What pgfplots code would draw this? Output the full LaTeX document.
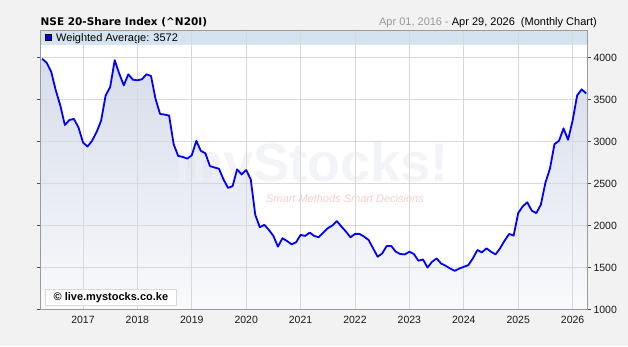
\documentclass[border=0pt]{standalone}
\usepackage{fontspec}
\setmainfont{Liberation Sans}
\newfontfamily\titlefont{DejaVu Sans}
\usepackage{pgfplots}
\usepackage{pgfplotstable}
\pgfplotsset{compat=1.18}
\definecolor{bgc}{HTML}{F2F2F2}
\definecolor{bandc}{HTML}{D5E3F1}
\definecolor{gridc}{HTML}{D9D9D9}
\definecolor{framec}{HTML}{9A9A9A}
\definecolor{filltop}{HTML}{D6DCEA}
\definecolor{fillbot}{HTML}{F9FAFC}
\definecolor{wmfill}{HTML}{EEF1F6}
\definecolor{wmpink}{HTML}{F5CFCF}
\definecolor{datec}{HTML}{999999}

\pgfplotstableread{
yr mo val
2016 4 3984
2016 5 3936
2016 6 3828
2016 7 3608
2016 8 3428
2016 9 3196
2016 10 3256
2016 11 3268
2016 12 3168
2017 1 2988
2017 2 2940
2017 3 3008
2017 4 3112
2017 5 3248
2017 6 3548
2017 7 3648
2017 8 3968
2017 9 3808
2017 10 3668
2017 11 3800
2017 12 3736
2018 1 3728
2018 2 3740
2018 3 3800
2018 4 3780
2018 5 3508
2018 6 3328
2018 7 3320
2018 8 3308
2018 9 2968
2018 10 2828
2018 11 2816
2018 12 2796
2019 1 2836
2019 2 3008
2019 3 2888
2019 4 2860
2019 5 2708
2019 6 2690
2019 7 2676
2019 8 2548
2019 9 2448
2019 10 2468
2019 11 2668
2019 12 2608
2020 1 2660
2020 2 2550
2020 3 2128
2020 4 1980
2020 5 2008
2020 6 1948
2020 7 1876
2020 8 1748
2020 9 1848
2020 10 1816
2020 11 1776
2020 12 1800
2021 1 1888
2021 2 1876
2021 3 1916
2021 4 1876
2021 5 1860
2021 6 1916
2021 7 1968
2021 8 2000
2021 9 2052
2021 10 1988
2021 11 1928
2021 12 1860
2022 1 1900
2022 2 1900
2022 3 1868
2022 4 1828
2022 5 1728
2022 6 1628
2022 7 1668
2022 8 1756
2022 9 1756
2022 10 1688
2022 11 1660
2022 12 1656
2023 1 1688
2023 2 1660
2023 3 1580
2023 4 1596
2023 5 1500
2023 6 1568
2023 7 1608
2023 8 1548
2023 9 1520
2023 10 1488
2023 11 1460
2023 12 1488
2024 1 1508
2024 2 1528
2024 3 1608
2024 4 1708
2024 5 1680
2024 6 1728
2024 7 1688
2024 8 1656
2024 9 1728
2024 10 1820
2024 11 1900
2024 12 1880
2025 1 2148
2025 2 2228
2025 3 2276
2025 4 2176
2025 5 2148
2025 6 2248
2025 7 2508
2025 8 2676
2025 9 2968
2025 10 3008
2025 11 3156
2025 12 3020
2026 1 3248
2026 2 3548
2026 3 3620
2026 4 3572
}\nsedata

\pgfplotsset{
  frame/.style={
    at={(40.5pt,36.5pt)}, anchor=south west,
    scale only axis, width=547pt, height=279pt,
    xmin=2016.219, xmax=2026.274,
    ymin=1000, ymax=4321,
  }
}

\begin{document}
\begin{tikzpicture}
\fill[bgc] (0,0) rectangle (628pt,346pt);
% plot area background (gradient) and header band
\fill[white] (40.5pt,36.5pt) rectangle (587.5pt,315.5pt);
\shade[top color=filltop, bottom color=fillbot] (40.5pt,36.5pt) rectangle (587.5pt,288.5pt);
\fill[bandc] (40.5pt,301pt) rectangle (587.5pt,315.5pt);

% first axis: white mask above the curve, so the gradient only shows below it
\begin{axis}[frame, hide axis]
\addplot[draw=none, fill=white]
  table[x expr=\thisrow{yr}+(\thisrow{mo}-1)/12, y=val] {\nsedata}
  -- (axis cs:2026.4,3572) -- (axis cs:2026.4,4149) -- (axis cs:2016.1,4149) -- (axis cs:2016.1,3984) -- cycle;
\end{axis}

% watermark
\node[anchor=base, inner sep=0pt, font=\bfseries\fontsize{54}{60}\selectfont, text=wmfill, opacity=0.75] at (312pt,165pt) {myStocks!};
\node[anchor=center, inner sep=0pt, font=\itshape\fontsize{11}{12}\selectfont, text=wmpink] at (345pt,147pt) {Smart Methods Smart Decisions};

% titles
\node[anchor=base west, inner sep=0pt, font=\titlefont\bfseries\fontsize{10.5}{12}\selectfont] at (40.5pt,320pt) {NSE 20-Share Index (\textasciicircum N20I)};
\node[anchor=base east, inner sep=0pt, font=\fontsize{11}{12}\selectfont] at (597pt,320pt) {\textcolor{datec}{Apr 01, 2016 - }Apr 29, 2026\ \ (Monthly Chart)};
% legend in band
\fill[blue, draw=black, line width=0.6pt] (45.5pt,306pt) rectangle (51.5pt,312pt);
\node[anchor=base west, inner sep=0pt, font=\fontsize{11}{12}\selectfont] at (56pt,304.3pt) {Weighted Average: 3572};

% second axis: grid, frame, ticks and the line
\begin{axis}[
  frame,
  xtick={2017,2018,...,2026},
  ytick={1000,1500,...,4000},
  yticklabel pos=right,
  grid=major,
  major grid style={draw=gridc, line width=0.6pt},
  axis line style={draw=framec, line width=0.8pt},
  xtick style={draw=none},
  ytick style={draw=black!70, line width=0.5pt},
  tick align=outside,
  major tick length=3.5pt,
  ticklabel style={font=\fontsize{10.5}{12}\selectfont, text=black!90},
  /pgf/number format/assume math mode=true,
  /pgf/number format/1000 sep={},
  xticklabel style={yshift=0pt},
  yticklabel style={xshift=-1pt},
]
\addplot[blue, line width=1.8pt, line join=round, mark=none]
  table[x expr=\thisrow{yr}+(\thisrow{mo}-1)/12, y=val] {\nsedata};
\end{axis}

% copyright
\node[anchor=south west, fill=white, draw=gridc, line width=0.8pt, minimum width=131pt, minimum height=16pt, inner sep=1pt, font=\bfseries\fontsize{11}{12}\selectfont] at (45pt,40pt) {\textcopyright\ live.mystocks.co.ke};
\pgfresetboundingbox
\useasboundingbox (0,0) rectangle (628pt,346pt);
\end{tikzpicture}
\end{document}
